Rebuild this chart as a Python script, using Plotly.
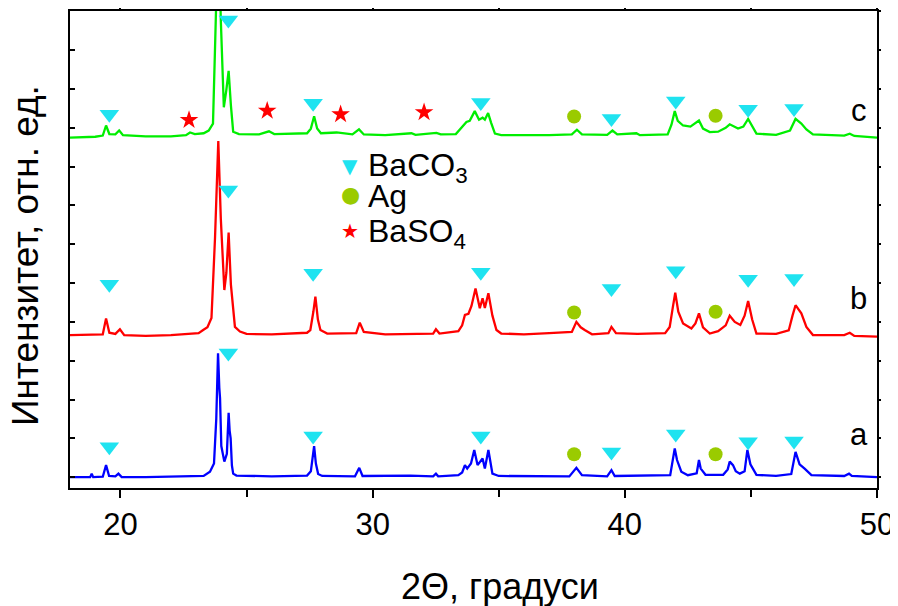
import plotly.graph_objects as go

# ---------------- data ----------------
# pattern a (blue), relative intensity, offset 0
a_x = [18.0, 18.8, 18.86, 18.92, 19.3, 19.43, 19.55, 19.8, 19.92, 20.05, 21.0, 22.0, 23.3, 23.55, 23.71, 23.80,
       23.87, 23.92, 23.95, 24.0, 24.12, 24.22, 24.29, 24.33, 24.37, 24.42, 24.47, 24.6, 25.0, 26.0, 27.4, 27.55,
       27.68, 27.75, 27.84, 28.0, 29.3, 29.47, 29.6, 31.5, 32.4, 32.51, 32.6, 33.4, 33.55, 33.66, 33.75, 33.9,
       34.03, 34.16, 34.36, 34.45, 34.59, 34.68, 34.75, 35.0, 37.8, 38.08, 38.3, 39.3, 39.47, 39.6, 41.8, 41.98,
       42.07, 42.24, 42.5, 42.85, 42.94, 43.01, 43.2, 43.9, 44.08, 44.16, 44.29, 44.4, 44.56, 44.75, 44.86, 44.98,
       45.22, 46.0, 46.6, 46.77, 46.93, 47.13, 47.4, 48.7, 48.89, 49.0, 50.0]
a_y = [0.0, 0.0, 0.09, 0.0, 0.01, 0.31, 0.03, 0.02, 0.09, 0.0, 0.0, 0.01, 0.03, 0.14, 0.35, 1.5,
       3.19, 2.3, 2.03, 0.8, 0.4, 0.6, 1.66, 1.2, 1.0, 0.3, 0.09, 0.04, 0.03, 0.02, 0.04, 0.15,
       0.8, 0.35, 0.08, 0.03, 0.02, 0.24, 0.03, 0.04, 0.02, 0.09, 0.02, 0.05, 0.12, 0.31, 0.22, 0.35,
       0.7, 0.31, 0.48, 0.22, 0.7, 0.3, 0.09, 0.03, 0.02, 0.24, 0.05, 0.02, 0.18, 0.03, 0.05, 0.74,
       0.44, 0.14, 0.05, 0.1, 0.44, 0.22, 0.06, 0.06, 0.2, 0.4, 0.31, 0.15, 0.09, 0.15, 0.7, 0.33,
       0.06, 0.03, 0.08, 0.65, 0.33, 0.22, 0.05, 0.03, 0.09, 0.03, 0.0]
a_offset = 0.0

# pattern b (red)
b_x = [18.0, 19.3, 19.43, 19.56, 19.8, 19.98, 20.15, 21.0, 22.0, 23.1, 23.28, 23.45, 23.61, 23.75, 23.88, 23.98,
       24.12, 24.2, 24.29, 24.38, 24.54, 24.74, 25.0, 26.0, 27.4, 27.53, 27.65, 27.73, 27.83, 27.93, 28.2, 29.35,
       29.49, 29.65, 30.5, 32.4, 32.51, 32.65, 33.4, 33.55, 33.66, 33.8, 33.92, 34.08, 34.25, 34.36, 34.45, 34.59,
       34.75, 34.91, 35.1, 36.0, 37.0, 37.9, 38.08, 38.25, 38.41, 38.7, 39.35, 39.47, 39.65, 40.5, 41.6, 41.78,
       41.9, 42.0, 42.12, 42.31, 42.64, 42.8, 42.94, 43.1, 43.37, 43.7, 44.0, 44.16, 44.36, 44.58, 44.75, 44.89,
       45.05, 45.22, 46.0, 46.5, 46.65, 46.77, 47.0, 47.2, 47.46, 48.7, 48.92, 49.1, 50.0]
b_y = [0.0, 0.02, 0.43, 0.06, 0.03, 0.15, 0.0, -0.02, 0.0, 0.05, 0.13, 0.2, 0.44, 2.5, 5.0, 3.0,
       1.16, 1.6, 2.64, 1.3, 0.21, 0.09, 0.03, 0.02, 0.06, 0.13, 0.6, 0.99, 0.4, 0.13, 0.04, 0.05,
       0.32, 0.08, 0.02, 0.04, 0.15, 0.04, 0.1, 0.25, 0.52, 0.55, 0.75, 1.2, 0.69, 0.95, 0.7, 1.08,
       0.5, 0.13, 0.04, 0.02, 0.05, 0.08, 0.34, 0.2, 0.13, 0.02, 0.05, 0.21, 0.05, 0.03, 0.05, 0.21,
       0.7, 1.09, 0.6, 0.3, 0.17, 0.3, 0.56, 0.2, 0.04, 0.1, 0.25, 0.5, 0.34, 0.26, 0.5, 0.88,
       0.4, 0.04, 0.03, 0.12, 0.5, 0.77, 0.56, 0.21, 0.0, 0.0, 0.06, -0.02, -0.04]
b_offset = 3.66

# pattern c (green)
c_x = [18.0, 19.0, 19.3, 19.43, 19.56, 19.8, 19.95, 20.1, 21.0, 22.0, 22.6, 22.76, 22.95, 23.3, 23.5, 23.67,
       23.76, 23.88, 23.98, 24.1, 24.2, 24.29, 24.38, 24.47, 24.7, 25.5, 25.89, 26.1, 27.4, 27.55, 27.68, 27.8,
       27.95, 28.57, 29.2, 29.46, 29.65, 30.5, 31.54, 31.7, 32.53, 32.7, 33.3, 33.5, 33.72, 33.85, 34.05, 34.22,
       34.36, 34.45, 34.58, 34.7, 34.85, 35.1, 37.0, 37.9, 38.1, 38.3, 39.3, 39.51, 39.7, 40.46, 40.6, 41.7,
       41.85, 41.98, 42.1, 42.31, 42.6, 42.94, 43.1, 43.37, 43.7, 44.0, 44.16, 44.49, 44.7, 44.89, 45.05, 45.22,
       46.0, 46.55, 46.77, 47.0, 47.2, 47.46, 48.7, 48.92, 49.1, 50.0]
c_y = [-0.03, -0.01, 0.02, 0.28, 0.06, 0.05, 0.15, 0.03, 0.0, 0.0, 0.03, 0.1, 0.06, 0.08, 0.15, 0.33,
       2.5, 5.5, 3.0, 0.75, 1.2, 1.69, 0.8, 0.12, 0.06, 0.05, 0.13, 0.06, 0.08, 0.2, 0.52, 0.2,
       0.08, 0.1, 0.05, 0.18, 0.05, 0.03, 0.08, 0.04, 0.09, 0.05, 0.06, 0.2, 0.37, 0.4, 0.65, 0.43,
       0.48, 0.43, 0.6, 0.35, 0.07, 0.03, 0.03, 0.05, 0.17, 0.05, 0.04, 0.15, 0.05, 0.08, 0.03, 0.05,
       0.3, 0.65, 0.4, 0.28, 0.25, 0.41, 0.2, 0.11, 0.12, 0.22, 0.31, 0.2, 0.25, 0.45, 0.25, 0.07,
       0.04, 0.15, 0.45, 0.33, 0.18, 0.05, 0.02, 0.07, 0.01, -0.03]
c_offset = 8.78

# phase markers (absolute positions on the stacked chart)
baco3_x = [19.56, 24.28, 27.64, 34.29, 39.47, 42.02, 44.89, 46.71]
baco3_y_a = [0.78, 3.2, 1.06, 1.06, 0.65, 1.11, 0.91, 0.93]
baco3_y_b = [4.97, 7.4, 5.25, 5.28, 4.86, 5.32, 5.1, 5.12]
baco3_y_c = [9.35, 11.78, 9.63, 9.65, 9.24, 9.69, 9.48, 9.5]

ag_x = [37.99, 43.6]
ag_y_a = [0.59, 0.59]
ag_y_b = [4.24, 4.26]
ag_y_c = [9.29, 9.31]

baso4_x = [22.72, 25.82, 28.73, 32.04]
baso4_y_c = [9.2, 9.44, 9.35, 9.4]

curve_labels = ["a", "b", "c"]
label_x = [49.28, 49.28, 49.3]
label_y = [1.1, 4.6, 9.45]

legend_names = ["BaCO<sub>3</sub>", "Ag", "BaSO<sub>4</sub>"]
legend_glyphs = ["▼", "●", "★"]
legend_colors = ["#1fe3f0", "#9acb00", "#ff0000"]

x_ticks = [20, 30, 40, 50]

# ---------------- figure ----------------
FONT = "Arial, Liberation Sans, sans-serif"
# the page body has an 8px margin, so the figure starts at (8, 8) of the window
OFF = 8
W, H = 898 - OFF, 606 - OFF
ML, MR, MT, MB = 70 - OFF, 21, 11 - OFF, 118
PW, PH = W - ML - MR, H - MT - MB


def px_x(p):
    """window pixel -> paper x"""
    return (p - OFF - ML) / PW


def px_y(p):
    """window pixel -> paper y"""
    return (H - MB - (p - OFF)) / PH


fig = go.Figure()

for xs, ys, off, col in [(a_x, a_y, a_offset, "#0000ff"),
                         (b_x, b_y, b_offset, "#ff0000"),
                         (c_x, c_y, c_offset, "#00ee00")]:
    fig.add_trace(go.Scatter(x=xs, y=[v + off for v in ys], mode="lines",
                             line=dict(color=col, width=2.3), showlegend=False,
                             hoverinfo="skip"))

fig.add_trace(go.Scatter(x=baco3_x * 3, y=baco3_y_a + baco3_y_b + baco3_y_c, mode="markers",
                         name=legend_names[0], showlegend=False,
                         marker=dict(symbol="triangle-down", size=17, color=legend_colors[0])))
fig.add_trace(go.Scatter(x=ag_x * 3, y=ag_y_a + ag_y_b + ag_y_c, mode="markers", name=legend_names[1],
                         showlegend=False,
                         marker=dict(symbol="circle", size=14, color=legend_colors[1])))
fig.add_trace(go.Scatter(x=baso4_x, y=baso4_y_c, mode="markers", name=legend_names[2], showlegend=False,
                         marker=dict(symbol="star", size=14, color=legend_colors[2])))

# invisible trace for the top/right tick axes
fig.add_trace(go.Scatter(x=[18, 50], y=[-0.28, 12.01], xaxis="x2", yaxis="y2", mode="markers",
                         marker=dict(opacity=0), showlegend=False, hoverinfo="skip"))

for t, lx, ly in zip(curve_labels, label_x, label_y):
    fig.add_annotation(x=lx, y=ly, text=t, showarrow=False, xanchor="center", yanchor="middle",
                       font=dict(size=31, color="black", family=FONT))

# legend block (text + symbol glyphs)
leg_rows = [166, 194, 231]
for name, glyph, col, ry in zip(legend_names, legend_glyphs, legend_colors, leg_rows):
    gsize = 20 if glyph == "▼" else (22 if glyph == "●" else 20)
    fig.add_annotation(xref="paper", yref="paper", x=px_x(350), y=px_y(ry), text=glyph,
                       showarrow=False, xanchor="center", yanchor="middle",
                       font=dict(size=gsize, color=col, family="DejaVu Sans"))
    fig.add_annotation(xref="paper", yref="paper", x=px_x(366), y=px_y(ry + 2), text=name,
                       showarrow=False, xanchor="left", yanchor="middle",
                       font=dict(size=32, color="black", family=FONT))

fig.add_annotation(xref="paper", yref="paper", x=px_x(500), y=px_y(586), text="2Θ, градуси",
                   showarrow=False, xanchor="center", yanchor="middle",
                   font=dict(size=36, color="black", family=FONT))
fig.add_annotation(xref="paper", yref="paper", x=px_x(26), y=px_y(256), text="Интензитет, отн. ед.",
                   showarrow=False, xanchor="center", yanchor="middle", textangle=-90,
                   font=dict(size=37, color="black", family=FONT))

fig.update_layout(
    width=W, height=H,
    margin=dict(l=ML, r=MR, t=MT, b=MB, autoexpand=False),
    paper_bgcolor="white", plot_bgcolor="white",
    font=dict(family=FONT, color="black"),
    showlegend=False,
    xaxis=dict(range=[18, 50], tickvals=x_ticks, ticks="outside", ticklen=8, tickwidth=2,
               tickcolor="black", showline=True, linecolor="black", linewidth=2, mirror=True,
               showgrid=False, zeroline=False, automargin=False,
               tickfont=dict(size=31, family=FONT, color="black"),
               minor=dict(dtick=5, tick0=0, ticks="outside", ticklen=7, tickwidth=2, tickcolor="black",
                          showgrid=False)),
    yaxis=dict(range=[-0.28, 12.01], dtick=1, tick0=0, ticks="inside", ticklen=5, tickwidth=2,
               tickcolor="black", showticklabels=False, showline=True, linecolor="black", linewidth=2,
               mirror=True, showgrid=False, zeroline=False, automargin=False),
    xaxis2=dict(range=[18, 50], overlaying="x", side="top", tickvals=x_ticks, ticks="outside", ticklen=3,
                tickwidth=2, tickcolor="black", showticklabels=False, showline=False, showgrid=False,
                zeroline=False, automargin=False,
                minor=dict(dtick=5, tick0=0, ticks="outside", ticklen=3, tickwidth=2, tickcolor="black")),
    yaxis2=dict(range=[-0.28, 12.01], overlaying="y", side="right", dtick=1, tick0=0, ticks="outside",
                ticklen=3, tickwidth=2, tickcolor="black", showticklabels=False, showline=False,
                showgrid=False, zeroline=False, automargin=False),
)

fig.write_html("out.html")
